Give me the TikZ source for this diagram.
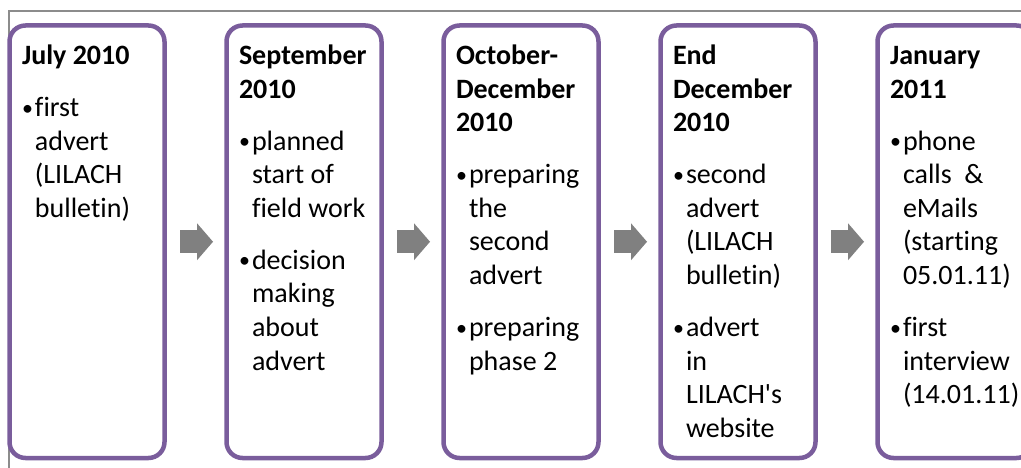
\documentclass[tikz,border=0pt]{standalone}
\usepackage{fontspec}
\setmainfont{Carlito}[Ligatures=NoCommon]
\usepackage{tikz}
\usetikzlibrary{positioning,arrows.meta}

\definecolor{stagepurple}{HTML}{7A5D9C}
\definecolor{arrowgray}{HTML}{808080}
\definecolor{framegray}{HTML}{8C8C8C}

\newcommand{\stagetext}[2]{\parbox[c][400pt][t]{130pt}{\fontsize{28pt}{33.6pt}\selectfont\raggedright\let\\\newline\setlength{\parskip}{18.4pt}\rule{0pt}{22.75pt}\textbf{#1}\par #2}}
\newcommand{\bul}[1]{\par\hangindent=13pt\hangafter=1\noindent\makebox[13pt][l]{\raisebox{1.5pt}{\fontsize{22pt}{22pt}\selectfont•}}#1}
\newcommand{\apos}{\XeTeXglyph\XeTeXcharglyph"27\relax}

\begin{document}
\begin{tikzpicture}[
x=1pt, y=-1pt,
stagebox/.style={rectangle, draw=stagepurple, fill=white, line width=4.5pt, rounded corners=16pt, minimum width=155pt, minimum height=432.5pt, outer sep=0pt, inner sep=0pt},
flowarrow/.style={draw=arrowgray, line width=23pt, -{Triangle[length=16pt, width=37pt, line width=0pt]}, shorten <=15.5pt, shorten >=13.5pt},
]
\useasboundingbox (0,0) rectangle (1021,468);

%Frame
\draw[framegray, line width=2pt] (1040,11) -- (9,11) -- (9,480);

%Nodes
\node[stagebox, anchor=north west] (jul) at (9.5,25.5)
  {\stagetext{July 2010}{\bul{first\\advert\\(LILACH\\bulletin)}}};
\node[stagebox] (sep) [right=62pt of jul]
  {\stagetext{September\\2010}{\bul{planned\\start of\\field work}\bul{decision\\making\\about\\advert}}};
\node[stagebox] (octdec) [right=62pt of sep]
  {\stagetext{October-\\December\\2010}{\bul{preparing\\the\\second\\advert}\bul{preparing\\phase 2}}};
\node[stagebox] (enddec) [right=62pt of octdec]
  {\stagetext{End\\December\\2010}{\bul{second\\advert\\(LILACH\\bulletin)}\bul{advert\\in\\LILACH\apos s\\website}}};
\node[stagebox] (jan) [right=62pt of enddec]
  {\stagetext{January\\2011}{\bul{phone\\calls~ \&\\eMails\\(starting\\05.01.11)}\bul{first\\interview\\(14.01.11)}}};

%Arrows
\draw[flowarrow] (jul) -- (sep);
\draw[flowarrow] (sep) -- (octdec);
\draw[flowarrow] (octdec) -- (enddec);
\draw[flowarrow] (enddec) -- (jan);

\end{tikzpicture}
\end{document}
